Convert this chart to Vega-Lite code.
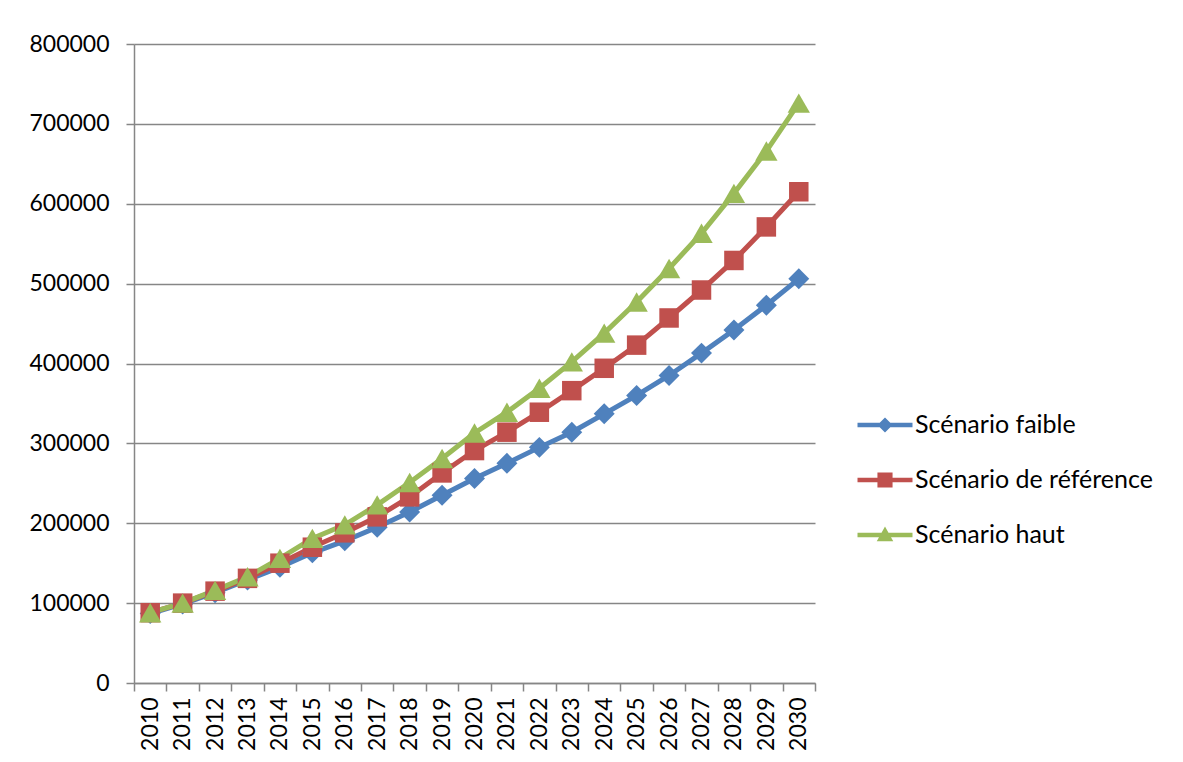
{
  "$schema": "https://vega.github.io/schema/vega-lite/v6.json",
  "width": 681,
  "height": 639,
  "autosize": {"type": "none"},
  "padding": {"left": 134, "top": 44, "right": 368, "bottom": 79},
  "background": "white",
  "config": {"view": {"stroke": null}, "font": "Lato"},
  "data": {"values": [
    {"annee": 2010, "serie": "Scénario faible", "valeur": 87000},
    {"annee": 2011, "serie": "Scénario faible", "valeur": 99000},
    {"annee": 2012, "serie": "Scénario faible", "valeur": 113000},
    {"annee": 2013, "serie": "Scénario faible", "valeur": 129000},
    {"annee": 2014, "serie": "Scénario faible", "valeur": 145000},
    {"annee": 2015, "serie": "Scénario faible", "valeur": 163000},
    {"annee": 2016, "serie": "Scénario faible", "valeur": 178000},
    {"annee": 2017, "serie": "Scénario faible", "valeur": 195000},
    {"annee": 2018, "serie": "Scénario faible", "valeur": 214000},
    {"annee": 2019, "serie": "Scénario faible", "valeur": 235000},
    {"annee": 2020, "serie": "Scénario faible", "valeur": 256000},
    {"annee": 2021, "serie": "Scénario faible", "valeur": 275000},
    {"annee": 2022, "serie": "Scénario faible", "valeur": 295000},
    {"annee": 2023, "serie": "Scénario faible", "valeur": 314000},
    {"annee": 2024, "serie": "Scénario faible", "valeur": 337000},
    {"annee": 2025, "serie": "Scénario faible", "valeur": 360000},
    {"annee": 2026, "serie": "Scénario faible", "valeur": 385000},
    {"annee": 2027, "serie": "Scénario faible", "valeur": 413000},
    {"annee": 2028, "serie": "Scénario faible", "valeur": 442000},
    {"annee": 2029, "serie": "Scénario faible", "valeur": 473000},
    {"annee": 2030, "serie": "Scénario faible", "valeur": 506000},
    {"annee": 2010, "serie": "Scénario de référence", "valeur": 88000},
    {"annee": 2011, "serie": "Scénario de référence", "valeur": 100000},
    {"annee": 2012, "serie": "Scénario de référence", "valeur": 115000},
    {"annee": 2013, "serie": "Scénario de référence", "valeur": 131000},
    {"annee": 2014, "serie": "Scénario de référence", "valeur": 150000},
    {"annee": 2015, "serie": "Scénario de référence", "valeur": 170000},
    {"annee": 2016, "serie": "Scénario de référence", "valeur": 188000},
    {"annee": 2017, "serie": "Scénario de référence", "valeur": 208000},
    {"annee": 2018, "serie": "Scénario de référence", "valeur": 233000},
    {"annee": 2019, "serie": "Scénario de référence", "valeur": 263000},
    {"annee": 2020, "serie": "Scénario de référence", "valeur": 291000},
    {"annee": 2021, "serie": "Scénario de référence", "valeur": 314000},
    {"annee": 2022, "serie": "Scénario de référence", "valeur": 339000},
    {"annee": 2023, "serie": "Scénario de référence", "valeur": 366000},
    {"annee": 2024, "serie": "Scénario de référence", "valeur": 394000},
    {"annee": 2025, "serie": "Scénario de référence", "valeur": 423000},
    {"annee": 2026, "serie": "Scénario de référence", "valeur": 457000},
    {"annee": 2027, "serie": "Scénario de référence", "valeur": 492000},
    {"annee": 2028, "serie": "Scénario de référence", "valeur": 529000},
    {"annee": 2029, "serie": "Scénario de référence", "valeur": 571000},
    {"annee": 2030, "serie": "Scénario de référence", "valeur": 615000},
    {"annee": 2010, "serie": "Scénario haut", "valeur": 88000},
    {"annee": 2011, "serie": "Scénario haut", "valeur": 100000},
    {"annee": 2012, "serie": "Scénario haut", "valeur": 116000},
    {"annee": 2013, "serie": "Scénario haut", "valeur": 133000},
    {"annee": 2014, "serie": "Scénario haut", "valeur": 156000},
    {"annee": 2015, "serie": "Scénario haut", "valeur": 181000},
    {"annee": 2016, "serie": "Scénario haut", "valeur": 198000},
    {"annee": 2017, "serie": "Scénario haut", "valeur": 223000},
    {"annee": 2018, "serie": "Scénario haut", "valeur": 251000},
    {"annee": 2019, "serie": "Scénario haut", "valeur": 281000},
    {"annee": 2020, "serie": "Scénario haut", "valeur": 313000},
    {"annee": 2021, "serie": "Scénario haut", "valeur": 339000},
    {"annee": 2022, "serie": "Scénario haut", "valeur": 369000},
    {"annee": 2023, "serie": "Scénario haut", "valeur": 402000},
    {"annee": 2024, "serie": "Scénario haut", "valeur": 438000},
    {"annee": 2025, "serie": "Scénario haut", "valeur": 477000},
    {"annee": 2026, "serie": "Scénario haut", "valeur": 519000},
    {"annee": 2027, "serie": "Scénario haut", "valeur": 563000},
    {"annee": 2028, "serie": "Scénario haut", "valeur": 613000},
    {"annee": 2029, "serie": "Scénario haut", "valeur": 666000},
    {"annee": 2030, "serie": "Scénario haut", "valeur": 726000}
  ]},
  "encoding": {
    "x": {
      "field": "annee", "type": "ordinal", "bandPosition": 0.5,
      "scale": {"type": "band", "paddingInner": 0, "paddingOuter": 0},
      "axis": {
        "title": null, "labelAngle": -90, "labelAlign": "right", "labelBaseline": "middle",
        "labelFontSize": 23, "labelColor": "#000000", "labelPadding": 6,
        "tickBand": "extent", "tickSize": 8, "tickColor": "#868686", "tickWidth": 1.5,
        "domainColor": "#868686", "domainWidth": 1.5, "grid": false
      }
    },
    "y": {
      "field": "valeur", "type": "quantitative",
      "scale": {"domain": [0, 800000], "nice": false},
      "axis": {
        "title": null, "values": [0, 100000, 200000, 300000, 400000, 500000, 600000, 700000, 800000],
        "format": "d", "labelFontSize": 23, "labelColor": "#000000", "labelPadding": 17,
        "tickSize": 8, "tickColor": "#868686", "tickWidth": 1.5,
        "domainColor": "#868686", "domainWidth": 1.5,
        "grid": true, "gridColor": "#868686", "gridWidth": 1.5
      }
    }
  },
  "layer": [
    {
      "mark": {"type": "line", "strokeWidth": 5},
      "encoding": {
        "detail": {"field": "serie"},
        "color": {
          "condition": [
            {"test": "datum.serie === 'Scénario faible'", "value": "#4F81BD"},
            {"test": "datum.serie === 'Scénario de référence'", "value": "#C0504D"}
          ],
          "value": "#9BBB59"
        }
      }
    },
    {
      "mark": {"type": "point", "filled": true, "opacity": 1, "strokeWidth": 0},
      "encoding": {
        "color": {
          "condition": [
            {"test": "datum.serie === 'Scénario faible'", "value": "#4F81BD"},
            {"test": "datum.serie === 'Scénario de référence'", "value": "#C0504D"}
          ],
          "value": "#9BBB59"
        },
        "shape": {
          "condition": [
            {"test": "datum.serie === 'Scénario faible'", "value": "diamond"},
            {"test": "datum.serie === 'Scénario de référence'", "value": "square"}
          ],
          "value": "triangle-up"
        },
        "size": {
          "condition": [
            {"test": "datum.serie === 'Scénario faible'", "value": 440},
            {"test": "datum.serie === 'Scénario de référence'", "value": 380}
          ],
          "value": 500
        }
      }
    },
    {
      "mark": {"type": "point", "filled": true, "opacity": 0},
      "encoding": {
        "color": {
          "field": "serie", "type": "nominal",
          "scale": {"domain": ["Scénario faible", "Scénario de référence", "Scénario haut"], "range": ["#4F81BD", "#C0504D", "#9BBB59"]},
          "legend": {
            "orient": "none", "legendX": 737, "legendY": 367, "title": null, "padding": 0,
            "symbolSize": 756, "symbolOpacity": 1, "symbolStrokeWidth": 0,
            "labelOffset": 16, "labelFontSize": 25, "labelColor": "#000000", "rowPadding": 28, "labelLimit": 400
          }
        },
        "shape": {
          "field": "serie", "type": "nominal",
          "scale": {"domain": ["Scénario faible", "Scénario de référence", "Scénario haut"], "range": [
            "M-2,-0.16H2V0.16H-2Z M0,-0.55L0.55,0L0,0.55L-0.55,0Z",
            "M-2,-0.16H2V0.16H-2Z M-0.55,-0.55H0.55V0.55H-0.55Z",
            "M-2,-0.16H2V0.16H-2Z M0,-0.62L0.6,0.45L-0.6,0.45Z"
          ]},
          "legend": {
            "orient": "none", "legendX": 737, "legendY": 367, "title": null, "padding": 0,
            "symbolSize": 756, "symbolOpacity": 1, "symbolStrokeWidth": 0,
            "labelOffset": 16, "labelFontSize": 25, "labelColor": "#000000", "rowPadding": 28, "labelLimit": 400
          }
        }
      }
    }
  ]
}
